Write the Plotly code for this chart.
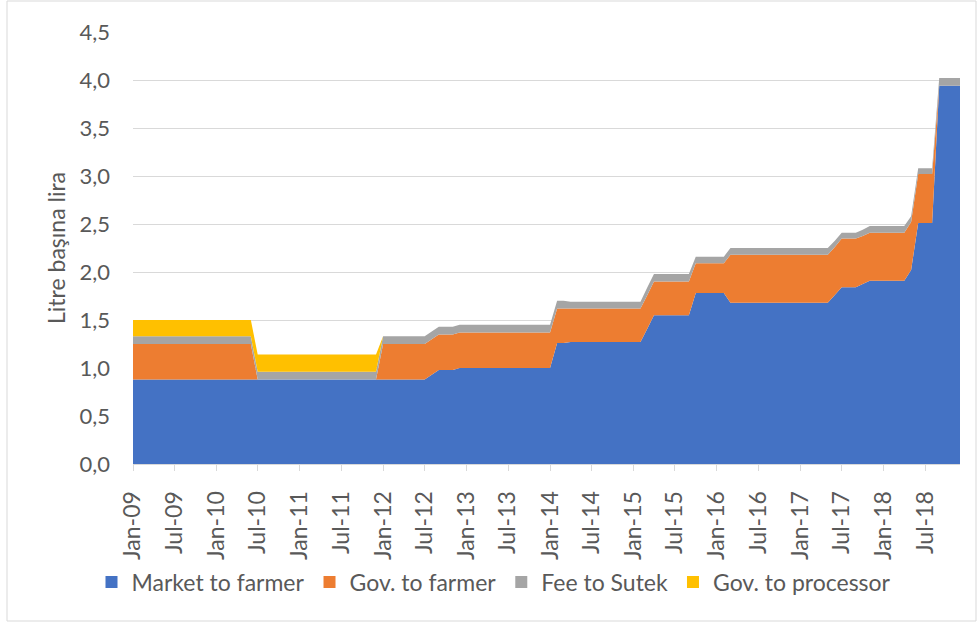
import plotly.graph_objects as go
import pandas as pd

months = pd.date_range("2009-01-01", "2018-12-01", freq="MS").strftime("%Y-%m-%d").tolist()

# one row per year (Jan..Dec), values in lira per litre
market_to_farmer = [
    0.88, 0.88, 0.88, 0.88, 0.88, 0.88, 0.88, 0.88, 0.88, 0.88, 0.88, 0.88,  # 2009
    0.88, 0.88, 0.88, 0.88, 0.88, 0.88, 0.88, 0.88, 0.88, 0.88, 0.88, 0.88,  # 2010
    0.88, 0.88, 0.88, 0.88, 0.88, 0.88, 0.88, 0.88, 0.88, 0.88, 0.88, 0.88,  # 2011
    0.88, 0.88, 0.88, 0.88, 0.88, 0.88, 0.88, 0.93, 0.98, 0.98, 0.98, 1.00,  # 2012
    1.00, 1.00, 1.00, 1.00, 1.00, 1.00, 1.00, 1.00, 1.00, 1.00, 1.00, 1.00,  # 2013
    1.00, 1.26, 1.26, 1.27, 1.27, 1.27, 1.27, 1.27, 1.27, 1.27, 1.27, 1.27,  # 2014
    1.27, 1.27, 1.40, 1.55, 1.55, 1.55, 1.55, 1.55, 1.55, 1.78, 1.78, 1.78,  # 2015
    1.78, 1.78, 1.68, 1.68, 1.68, 1.68, 1.68, 1.68, 1.68, 1.68, 1.68, 1.68,  # 2016
    1.68, 1.68, 1.68, 1.68, 1.68, 1.76, 1.84, 1.84, 1.84, 1.875, 1.91, 1.91,  # 2017
    1.91, 1.91, 1.91, 1.91, 2.02, 2.51, 2.51, 2.51, 3.94, 3.94, 3.94, 3.94,  # 2018
]
gov_to_farmer = [
    0.37, 0.37, 0.37, 0.37, 0.37, 0.37, 0.37, 0.37, 0.37, 0.37, 0.37, 0.37,  # 2009
    0.37, 0.37, 0.37, 0.37, 0.37, 0.37, 0.00, 0.00, 0.00, 0.00, 0.00, 0.00,  # 2010
    0.00, 0.00, 0.00, 0.00, 0.00, 0.00, 0.00, 0.00, 0.00, 0.00, 0.00, 0.00,  # 2011
    0.37, 0.37, 0.37, 0.37, 0.37, 0.37, 0.37, 0.37, 0.37, 0.37, 0.37, 0.37,  # 2012
    0.37, 0.37, 0.37, 0.37, 0.37, 0.37, 0.37, 0.37, 0.37, 0.37, 0.37, 0.37,  # 2013
    0.37, 0.36, 0.36, 0.35, 0.35, 0.35, 0.35, 0.35, 0.35, 0.35, 0.35, 0.35,  # 2014
    0.35, 0.35, 0.35, 0.35, 0.35, 0.35, 0.35, 0.35, 0.35, 0.31, 0.31, 0.31,  # 2015
    0.31, 0.31, 0.50, 0.50, 0.50, 0.50, 0.50, 0.50, 0.50, 0.50, 0.50, 0.50,  # 2016
    0.50, 0.50, 0.50, 0.50, 0.50, 0.50, 0.51, 0.51, 0.51, 0.50, 0.50, 0.50,  # 2017
    0.50, 0.50, 0.50, 0.50, 0.50, 0.51, 0.51, 0.51, 0.00, 0.00, 0.00, 0.00,  # 2018
]
fee_to_sutek = [
    0.08, 0.08, 0.08, 0.08, 0.08, 0.08, 0.08, 0.08, 0.08, 0.08, 0.08, 0.08,  # 2009
    0.08, 0.08, 0.08, 0.08, 0.08, 0.08, 0.08, 0.08, 0.08, 0.08, 0.08, 0.08,  # 2010
    0.08, 0.08, 0.08, 0.08, 0.08, 0.08, 0.08, 0.08, 0.08, 0.08, 0.08, 0.08,  # 2011
    0.08, 0.08, 0.08, 0.08, 0.08, 0.08, 0.08, 0.08, 0.08, 0.08, 0.08, 0.08,  # 2012
    0.08, 0.08, 0.08, 0.08, 0.08, 0.08, 0.08, 0.08, 0.08, 0.08, 0.08, 0.08,  # 2013
    0.08, 0.08, 0.08, 0.07, 0.07, 0.07, 0.07, 0.07, 0.07, 0.07, 0.07, 0.07,  # 2014
    0.07, 0.07, 0.08, 0.08, 0.08, 0.08, 0.08, 0.08, 0.08, 0.07, 0.07, 0.07,  # 2015
    0.07, 0.07, 0.07, 0.07, 0.07, 0.07, 0.07, 0.07, 0.07, 0.07, 0.07, 0.07,  # 2016
    0.07, 0.07, 0.07, 0.07, 0.07, 0.065, 0.06, 0.06, 0.06, 0.065, 0.07, 0.07,  # 2017
    0.07, 0.07, 0.07, 0.07, 0.06, 0.06, 0.06, 0.06, 0.08, 0.08, 0.08, 0.08,  # 2018
]
gov_to_processor = [
    0.17, 0.17, 0.17, 0.17, 0.17, 0.17, 0.17, 0.17, 0.17, 0.17, 0.17, 0.17,  # 2009
    0.17, 0.17, 0.17, 0.17, 0.17, 0.17, 0.18, 0.18, 0.18, 0.18, 0.18, 0.18,  # 2010
    0.18, 0.18, 0.18, 0.18, 0.18, 0.18, 0.18, 0.18, 0.18, 0.18, 0.18, 0.18,  # 2011
    0.00, 0.00, 0.00, 0.00, 0.00, 0.00, 0.00, 0.00, 0.00, 0.00, 0.00, 0.00,  # 2012
    0.00, 0.00, 0.00, 0.00, 0.00, 0.00, 0.00, 0.00, 0.00, 0.00, 0.00, 0.00,  # 2013
    0.00, 0.00, 0.00, 0.00, 0.00, 0.00, 0.00, 0.00, 0.00, 0.00, 0.00, 0.00,  # 2014
    0.00, 0.00, 0.00, 0.00, 0.00, 0.00, 0.00, 0.00, 0.00, 0.00, 0.00, 0.00,  # 2015
    0.00, 0.00, 0.00, 0.00, 0.00, 0.00, 0.00, 0.00, 0.00, 0.00, 0.00, 0.00,  # 2016
    0.00, 0.00, 0.00, 0.00, 0.00, 0.00, 0.00, 0.00, 0.00, 0.00, 0.00, 0.00,  # 2017
    0.00, 0.00, 0.00, 0.00, 0.00, 0.00, 0.00, 0.00, 0.00, 0.00, 0.00, 0.00,  # 2018
]

series_names = ["Market to farmer", "Gov. to farmer", "Fee to Sutek", "Gov. to processor"]
series_values = [market_to_farmer, gov_to_farmer, fee_to_sutek, gov_to_processor]
series_colors = ["#4472C4", "#ED7D31", "#A5A5A5", "#FFC000"]

FONT = "Lato, 'Open Sans', sans-serif"
TEXT = "#595959"
GRID = "#D9D9D9"

fig = go.Figure()
for name, vals, col in zip(series_names, series_values, series_colors):
    fig.add_trace(go.Scatter(
        x=months, y=vals, name=name, mode="lines", stackgroup="one",
        line=dict(width=0, color=col), fillcolor=col, legendgroup=name,
        showlegend=False,
    ))
for name, col in zip(series_names, series_colors):
    fig.add_trace(go.Scatter(
        x=[None], y=[None], name=name, mode="markers", legendgroup=name,
        marker=dict(symbol="square", size=13, color=col), showlegend=True,
    ))

# plot area: x 133..960, y 32..464 (px)
L, R, T, B = 133, 960, 32, 464
W, H = 977, 622
pw, ph = R - L, B - T

def px_x(v):
    return (v - L) / pw

def px_y(v):
    return (B - v) / ph

fig.update_layout(
    width=W, height=H,
    margin=dict(l=L, r=W - R, t=T, b=H - B, autoexpand=False),
    paper_bgcolor="white", plot_bgcolor="white",
    separators=",.",
    font=dict(family=FONT, color=TEXT, size=22),
    showlegend=True,
    legend=dict(
        orientation="h", x=px_x(494), xanchor="center", y=px_y(582), yanchor="middle",
        font=dict(family=FONT, size=23, color=TEXT), traceorder="normal",
        itemsizing="constant", bgcolor="rgba(0,0,0,0)", itemwidth=30,
    ),
    xaxis=dict(
        type="date", range=[months[0], months[-1]],
        tick0=months[0], dtick="M6", tickformat="%b-%y", tickangle=-90,
        showgrid=False, showline=True, linecolor=GRID, linewidth=1,
        ticks="outside", ticklen=6, tickcolor=GRID, tickwidth=1,
        tickfont=dict(family=FONT, size=23, color=TEXT),
        ticklabelstandoff=11, zeroline=False, fixedrange=True,
    ),
    yaxis=dict(
        range=[0, 4.5], tick0=0, dtick=0.5, tickformat=".1f",
        showgrid=True, gridcolor=GRID, gridwidth=1, zeroline=False,
        showline=False, ticks="", ticklabelstandoff=22,
        tickfont=dict(family=FONT, size=22, color=TEXT),
        title=dict(text="Litre başına lira", font=dict(family=FONT, size=23, color=TEXT), standoff=7),
        fixedrange=True,
    ),
    shapes=[dict(
        type="rect", xref="paper", yref="paper",
        x0=px_x(7), x1=px_x(976), y0=px_y(621), y1=px_y(1),
        line=dict(color=GRID, width=1), fillcolor="rgba(0,0,0,0)", layer="below",
    )],
)

fig.write_html(
    "out.html",
    post_script="document.body.style.margin='0';document.body.style.overflow='hidden';",
    config={"displayModeBar": False},
)
